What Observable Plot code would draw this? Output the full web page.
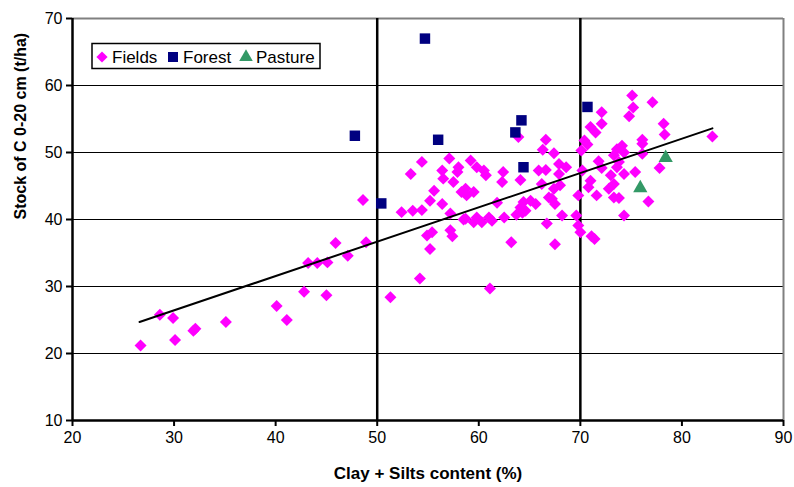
<!DOCTYPE html>
<html>
<head>
<meta charset="utf-8">
<script src="https://cdn.jsdelivr.net/npm/d3@7"></script>
<script src="https://cdn.jsdelivr.net/npm/@observablehq/plot@0.6"></script>
<style>
  html, body { margin: 0; padding: 0; background: white; }
  #chart { position: relative; width: 794px; height: 487px; }
</style>
</head>
<body>
<div id="chart"></div>
<script>
const fieldsX = [26.7,28.6,29.9,30.1,32.1,31.9,35.1,40.1,41.1,42.8,45.0,43.2,44.1,45.1,45.9,47.1,48.9,48.6,
  51.3,54.2,52.4,53.5,54.4,53.3,54.4,54.9,55.4,55.2,55.6,55.2,56.4,56.5,56.4,57.1,57.5,58.0,57.9,57.2,57.4,57.2,58.7,58.5,
  58.3,58.7,58.8,59.5,59.2,59.8,59.5,59.8,60.3,
  60.5,60.7,61.0,61.3,61.1,61.8,62.4,62.3,62.5,63.2,63.7,64.3,64.1,64.6,64.4,65.1,65.6,64.1,63.9,65.9,66.6,66.2,66.6,66.3,
  67.4,66.7,67.5,67.9,68.6,67.9,68.0,67.4,66.9,67.5,67.2,68.2,69.6,69.8,69.8,70.0,
  71.0,71.5,70.4,70.7,70.1,72.1,72.1,75.1,77.1,75.2,74.8,78.2,78.3,83.0,76.1,76.1,74.1,73.6,74.3,76.1,73.3,71.8,72.1,
  73.8,73.6,74.3,75.4,77.8,70.2,71.0,70.8,73.0,73.3,72.8,71.6,73.3,73.8,76.7,74.3,71.1,71.4];
const fieldsY = [21.2,25.8,25.3,22.0,23.7,23.4,24.7,27.1,25.0,29.2,28.7,33.5,33.5,33.6,36.5,34.6,36.6,42.9,
  28.4,31.2,41.1,41.3,41.4,46.8,48.6,37.6,38.1,35.6,44.3,42.8,42.3,46.1,47.3,49.1,45.6,47.8,47.1,38.4,37.5,40.9,40.1,40.0,
  44.1,44.6,43.6,44.1,48.8,47.8,39.6,40.3,39.6,
  47.3,46.6,40.3,39.8,29.7,42.5,47.1,45.6,40.3,36.6,40.7,41.0,41.8,41.3,42.6,42.8,42.3,45.9,52.3,47.3,47.4,45.3,51.9,50.4,
  49.9,39.4,36.3,48.3,47.8,46.8,45.1,44.6,43.3,42.3,43.1,40.6,40.6,43.6,39.1,38.1,
  53.8,53.0,51.8,51.2,50.3,56.0,54.3,58.5,57.5,56.7,55.4,54.3,52.7,52.4,51.9,51.3,51.0,50.5,50.0,49.8,49.6,48.7,47.7,
  48.6,47.8,46.8,47.1,47.7,47.3,45.8,44.8,46.6,45.3,44.6,43.6,43.3,43.2,42.7,40.6,37.5,37.1];
const forestX = [47.8,54.7,56.0,64.2,63.6,64.4,50.4,70.7];
const forestY = [52.5,67.0,51.9,54.8,53.0,47.8,42.4,56.8];
const pastureX = [78.4,75.9];
const pastureY = [49.2,44.7];
const trendX = [26.6,83.0];
const trendY = [24.7,53.6];
const xTicks = [20,30,40,50,60,70,80,90];
const yTicks = [10,20,30,40,50,60,70];
const gridY = [20,30,40,50,60];
const refLinesX = [50,70];
const categories = ["Fields","Forest","Pasture"];
const colors = ["#ff00ff","#000080","#339966"];

const fields = fieldsX.map((x,i)=>({x, y: fieldsY[i]}));
const forest = forestX.map((x,i)=>({x, y: forestY[i]}));
const pasture = pastureX.map((x,i)=>({x, y: pastureY[i]}));
const trend = trendX.map((x,i)=>({x, y: trendY[i]}));

const plot = Plot.plot({
  width: 794, height: 487,
  marginLeft: 72, marginRight: 11, marginTop: 18, marginBottom: 67,
  style: {fontFamily: "'Liberation Sans', Arial, sans-serif", fontSize: "16px", color: "black", background: "white", overflow: "visible"},
  x: {domain: [20,90]},
  y: {domain: [10,70]},
  marks: [
    Plot.ruleY(gridY, {stroke: "black", strokeWidth: 1.2}),
    Plot.ruleY([70], {stroke: "#808080", strokeWidth: 2}),
    Plot.ruleX([90], {stroke: "#808080", strokeWidth: 2}),
    Plot.ruleX(refLinesX, {stroke: "black", strokeWidth: 2.5}),
    Plot.axisX({ticks: xTicks, tickSize: 6, tickPadding: 5, tickFormat: d => d, label: null, fontSize: 16, strokeWidth: 2}),
    Plot.axisY({ticks: yTicks, tickSize: 6, tickPadding: 4, tickFormat: d => d, label: null, fontSize: 16, strokeWidth: 2}),
    Plot.ruleX([20], {stroke: "black", strokeWidth: 2.5}),
    Plot.ruleY([10], {stroke: "black", strokeWidth: 2.5}),
    Plot.dot(fields, {x: "x", y: "y", symbol: "diamond2", fill: colors[0], r: 5.4}),
    Plot.dot(forest, {x: "x", y: "y", symbol: "square", fill: colors[1], r: 5.9}),
    Plot.dot(pasture, {x: "x", y: "y", symbol: "triangle", fill: colors[2], r: 5.3}),
    Plot.line(trend, {x: "x", y: "y", stroke: "black", strokeWidth: 2}),
    Plot.text(["Clay + Silts content (%)"], {frameAnchor: "bottom", dy: 58, fontWeight: "bold", fontSize: 17}),
    Plot.text(["Stock of C 0-20 cm (t/ha)"], {frameAnchor: "left", dx: -52, rotate: -90, fontWeight: "bold", fontSize: 16})
  ]
});
document.getElementById("chart").appendChild(plot);

// Legend
const svg = d3.select(plot);
const lg = svg.append("g").attr("font-family", "'Liberation Sans', Arial, sans-serif")
  .attr("font-size", 17).attr("text-anchor", "start");
lg.append("rect").attr("x", 92).attr("y", 43.5).attr("width", 228).attr("height", 25)
  .attr("fill", "white").attr("stroke", "black").attr("stroke-width", 1.5);
const symTypes = [d3.symbolDiamond2, d3.symbolSquare, d3.symbolTriangle];
const symSizes = [80, 100, 80];
const symX = [102, 173, 246];
categories.forEach((c, i) => {
  lg.append("path").attr("d", d3.symbol(symTypes[i], symSizes[i])())
    .attr("transform", `translate(${symX[i]},57)`).attr("fill", colors[i]);
  lg.append("text").attr("x", symX[i] + 10).attr("y", 62.5).attr("text-anchor", "start").text(c);
});
</script>
</body>
</html>
